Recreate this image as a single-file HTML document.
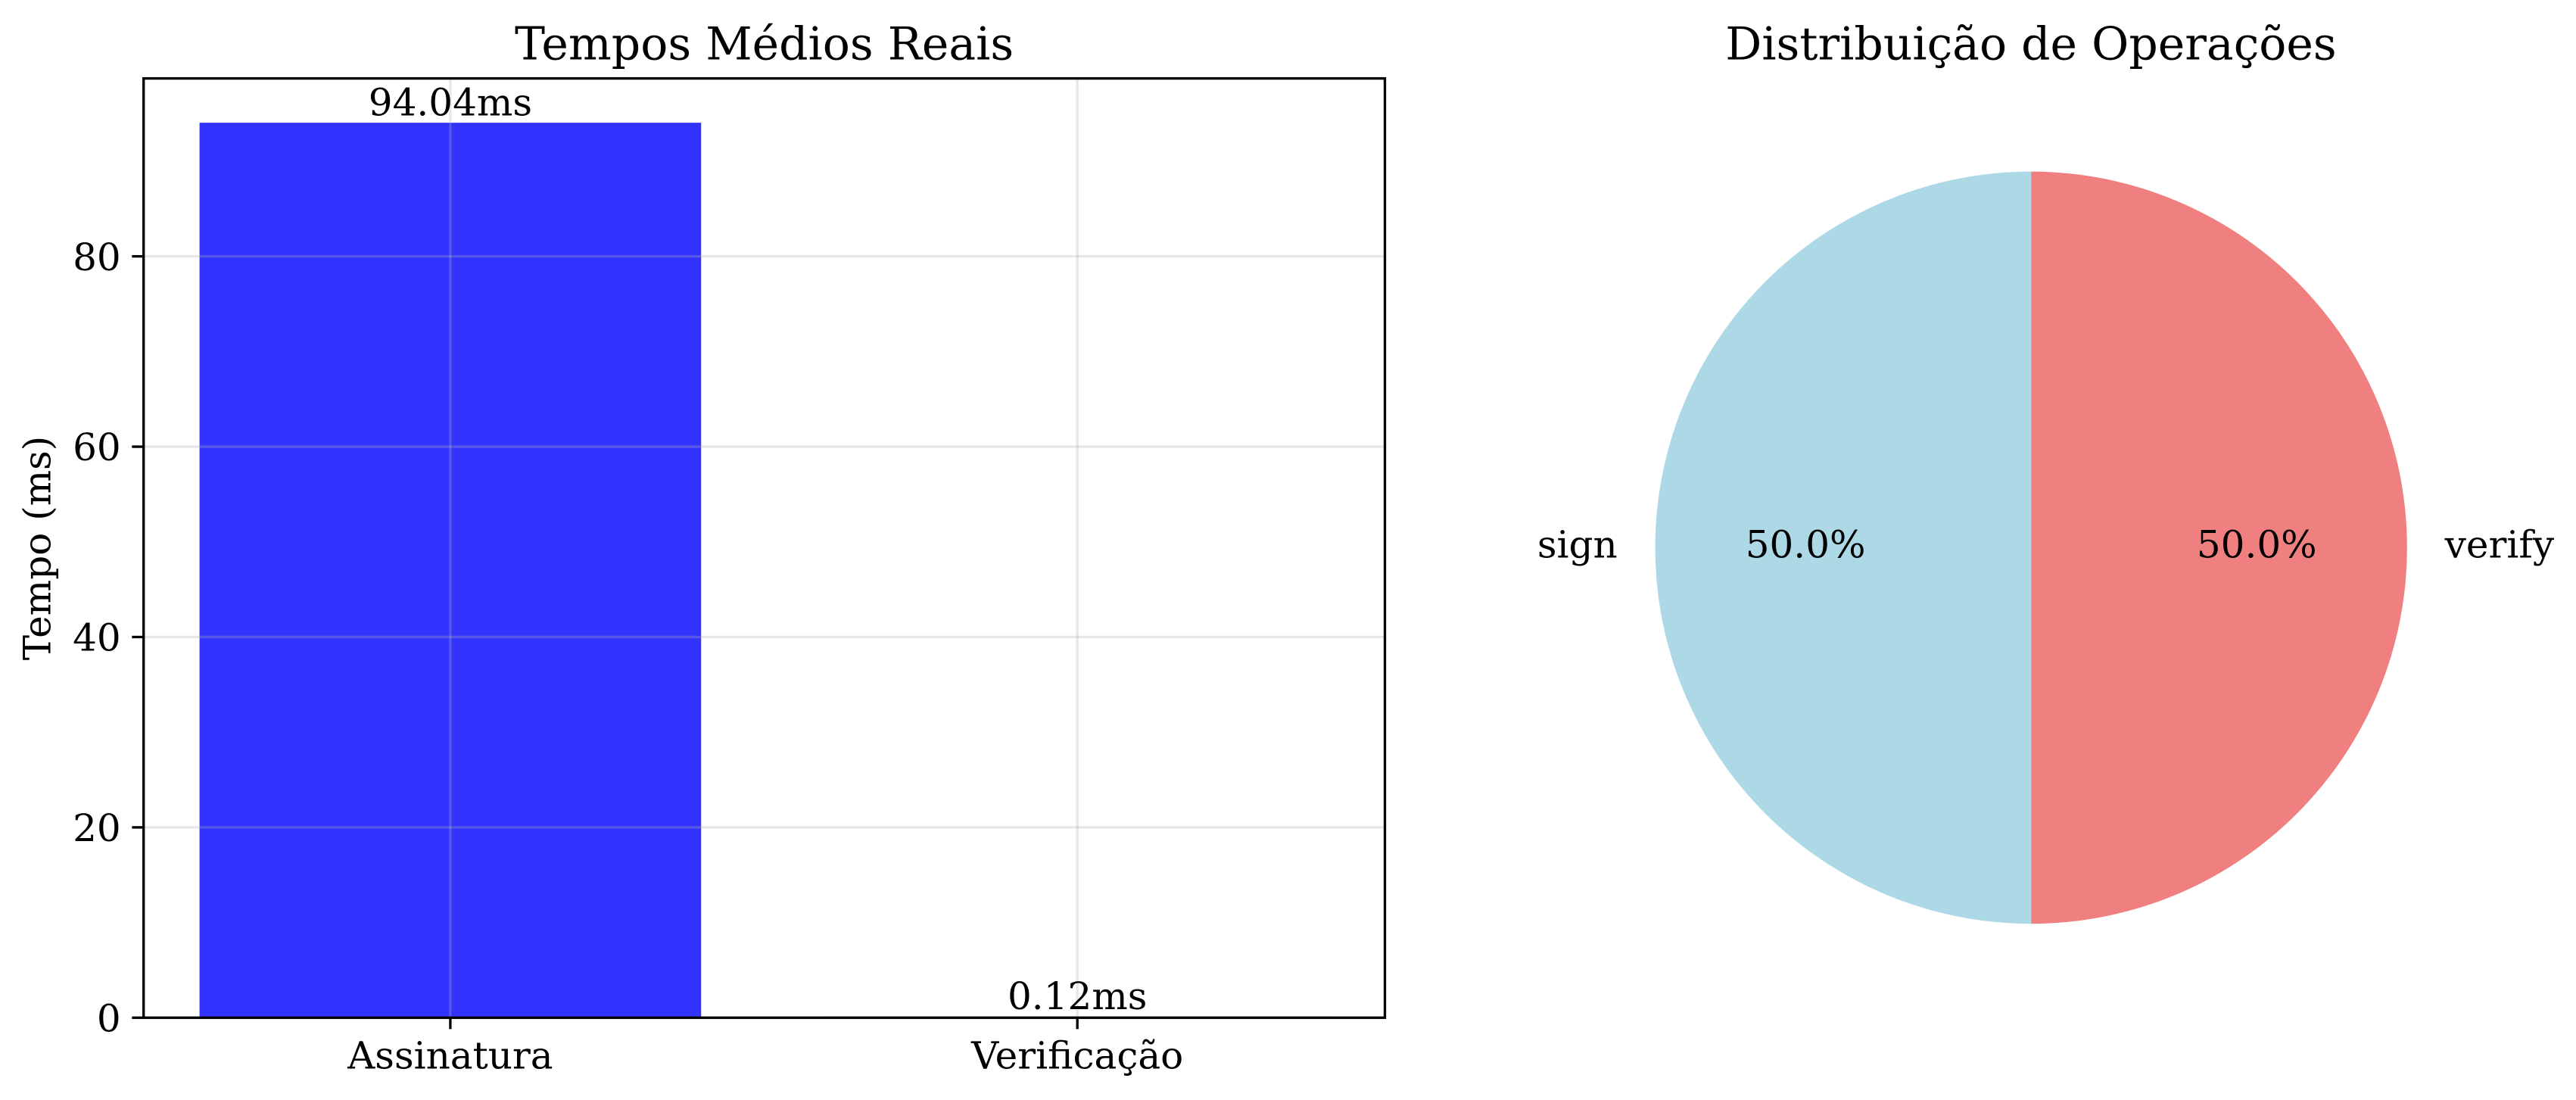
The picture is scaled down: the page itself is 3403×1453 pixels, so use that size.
<!DOCTYPE html>
<html lang="pt">
<head>
<meta charset="utf-8">
<title>Tempos Médios Reais e Distribuição de Operações</title>
<style>
html,body{margin:0;padding:0;background:#fff;width:3403px;height:1453px;overflow:hidden}
svg{display:block}
text{font-family:"DejaVu Serif","Liberation Serif",serif;fill:#000}
.t{font-size:60px}
.l{font-size:50px}
</style>
</head>
<body>
<svg id="fig" xmlns="http://www.w3.org/2000/svg" width="3403" height="1453" viewBox="0 0 3403 1453">
  <rect x="0" y="0" width="3403" height="1453" fill="#fff"/>
  <g id="bar-chart">
    <g id="bars"></g>
    <g id="grid"></g>
    <g id="ticks"></g>
    <rect x="189.7" y="103.6" width="1639.8" height="1240.7" fill="none" stroke="#000" stroke-width="3.33"/>
    <g id="labels"></g>
    <text class="t" x="1009.6" y="78.3" text-anchor="middle">Tempos Médios Reais</text>
    <text class="l" transform="translate(66.7 724) rotate(-90)" text-anchor="middle">Tempo (ms)</text>
  </g>
  <g id="pie-chart">
    <g id="slices"></g>
    <g id="pie-labels"></g>
    <text class="t" x="2683" y="78.3" text-anchor="middle">Distribuição de Operações</text>
  </g>
</svg>
<script>
const barCategories = ['Assinatura', 'Verificação'];
const barValues = [94.04, 0.12];
const yTickValues = [0, 20, 40, 60, 80];
const pieCategories = ['sign', 'verify'];
const pieValues = [50, 50];
const pieColors = ['#add8e6', '#f08080'];

const NS = 'http://www.w3.org/2000/svg';
function make(tag, attrs, parent, text) {
  const el = document.createElementNS(NS, tag);
  for (const k in attrs) el.setAttribute(k, attrs[k]);
  if (text !== undefined) el.textContent = text;
  parent.appendChild(el);
  return el;
}

const plotLeft = 189.7, plotRight = 1829.5, plotTop = 103, plotBottom = 1344.3;
const yMax = Math.max(...barValues) * 1.05;
const firstBarX = 594.9, bandStep = 828.3, barWidth = 0.8;
function xScale(i) { return firstBarX + i * bandStep; }
function yScale(v) { return plotBottom - (v / yMax) * (plotBottom - plotTop); }

const barsG = document.getElementById('bars');
const gridG = document.getElementById('grid');
const ticksG = document.getElementById('ticks');
const labelsG = document.getElementById('labels');

barValues.forEach(function (v, i) {
  const w = barWidth * bandStep;
  const bar = make('rect', { x: xScale(i) - w / 2, y: yScale(v), width: w, height: plotBottom - yScale(v), fill: '#3333ff' }, barsG);
  
  
  const val = make('text', { class: 'l', x: xScale(i), y: yScale(v) - 9.6, 'text-anchor': 'middle' }, labelsG, v.toFixed(2) + 'ms');
  
  

  const gl = make('line', { x1: xScale(i), x2: xScale(i), y1: 103.6, y2: plotBottom, stroke: '#b0b0b0', 'stroke-opacity': 0.3, 'stroke-width': 3.33 }, gridG);
  
  
  const tk = make('line', { x1: xScale(i), x2: xScale(i), y1: plotBottom, y2: 1359.3, stroke: '#000', 'stroke-width': 3.33 }, ticksG);
  
  
  const lb = make('text', { class: 'l', x: xScale(i), y: 1411.7, 'text-anchor': 'middle' }, labelsG, barCategories[i]);
  
  
});

yTickValues.forEach(function (v) {
  const y = yScale(v);
  const gl = make('line', { x1: plotLeft, x2: plotRight, y1: y, y2: y, stroke: '#b0b0b0', 'stroke-opacity': 0.3, 'stroke-width': 3.33 }, gridG);
  
  
  const tk = make('line', { x1: 174.3, x2: plotLeft, y1: y, y2: y, stroke: '#000', 'stroke-width': 3.33 }, ticksG);
  
  
  const lb = make('text', { class: 'l', x: 159.7, y: y + 18.2, 'text-anchor': 'end' }, labelsG, String(v));
  
  
});

const pieCx = 2683.2, pieCy = 723.4, pieR = 496.8;
const slicesG = document.getElementById('slices');
const pieLabelsG = document.getElementById('pie-labels');
const pieTotal = pieValues.reduce(function (a, b) { return a + b; }, 0);
function piePoint(deg, r) {
  const a = deg * Math.PI / 180;
  return [pieCx + r * Math.cos(a), pieCy - r * Math.sin(a)];
}
let startDeg = 90;
pieValues.forEach(function (v, i) {
  const sweep = v / pieTotal * 360;
  const endDeg = startDeg + sweep;
  const p0 = piePoint(startDeg, pieR), p1 = piePoint(endDeg, pieR);
  const d = 'M' + pieCx + ' ' + pieCy + 'L' + p0[0] + ' ' + p0[1] + 'A' + pieR + ' ' + pieR + ' 0 ' + (sweep > 180 ? 1 : 0) + ' 0 ' + p1[0] + ' ' + p1[1] + 'Z';
  const s = make('path', { d: d, fill: pieColors[i] }, slicesG);
  
  

  const mid = startDeg + sweep / 2;
  const lp = piePoint(mid, pieR * 1.1);
  const cosMid = Math.cos(mid * Math.PI / 180);
  const lab = make('text', { class: 'l', x: lp[0], y: lp[1] + 13.3, 'text-anchor': cosMid < 0 ? 'end' : 'start' }, pieLabelsG, pieCategories[i]);
  
  
  const pp = piePoint(mid, pieR * 0.6);
  const pct = make('text', { class: 'l', x: pp[0], y: pp[1] + 13.3, 'text-anchor': 'middle' }, pieLabelsG, (v / pieTotal * 100).toFixed(1) + '%');
  
  
  startDeg = endDeg;
});
</script>
</body>
</html>
